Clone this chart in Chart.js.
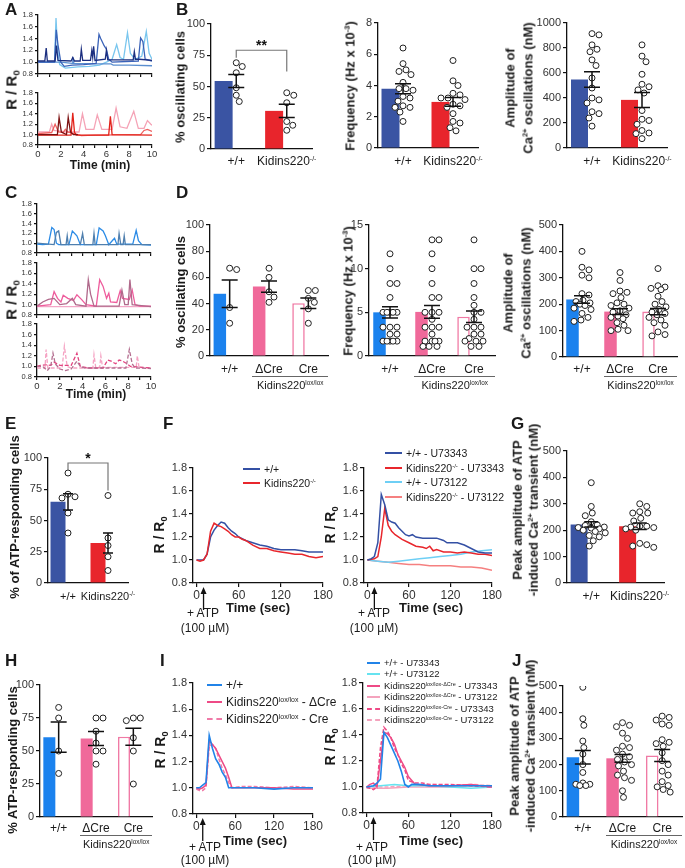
<!DOCTYPE html>
<html><head><meta charset="utf-8">
<script src="https://cdn.jsdelivr.net/npm/chart.js@4.4.1/dist/chart.umd.min.js"></script>
<style>
html,body{margin:0;padding:0;background:#fff;}
#wrap{position:relative;width:685px;height:868px;overflow:hidden;background:#fff;font-family:"Liberation Sans",Arial,Helvetica,sans-serif;}
#wrap canvas{position:absolute;}
.t{position:absolute;white-space:nowrap;line-height:1;color:#1a1a1a;}
.t sup{font-size:58%;vertical-align:0.6em;line-height:0;}
.t sub{font-size:65%;vertical-align:-0.3em;line-height:0;}
.ln{position:absolute;height:0;}
</style></head><body><div id="wrap"></div>
<script>
// ================= DATA =================
// Panel A traces: [time (min), R/R0]
const A_wt_navy  = [[0,1.02],[0.6,1.02],[0.72,1.24],[0.82,1.02],[1.5,1.02],[1.62,1.28],[1.75,1.03],[2.9,1.02],[3.05,1.08],[3.2,1.02],[3.7,1.02],[3.8,1.22],[3.92,1.03],[4.6,1.03],[4.72,1.2],[4.8,1.08],[4.88,1.27],[5.0,1.03],[5.9,1.05],[6.0,1.2],[6.12,1.04],[8.35,1.04],[8.45,1.18],[8.55,1.05],[8.9,1.05],[10,1.03]];
const A_wt_royal = [[0,1.0],[1.45,1.0],[1.6,1.55],[1.75,1.3],[2.0,1.0],[2.3,0.93],[3,0.95],[4,0.96],[5.1,0.98],[5.35,1.47],[5.5,1.4],[5.8,1.28],[6.0,1.22],[6.2,1.05],[6.5,1.0],[8.8,1.02],[9.0,1.41],[9.2,1.35],[9.4,1.05],[10,1.02]];
const A_wt_sky   = [[0,1.0],[1.45,1.0],[1.58,1.75],[1.72,1.2],[1.9,0.96],[2.4,0.9],[3.5,0.92],[4.5,0.93],[5.4,0.95],[6.0,1.0],[6.5,1.05],[6.9,1.3],[7.2,1.08],[7.5,1.05],[7.85,1.5],[8.1,1.15],[8.5,1.05],[9.1,1.1],[9.5,1.52],[9.75,1.15],[10,1.05]];
const A_wt_steel = [[0,1.0],[2.0,1.0],[3.0,0.98],[3.05,1.09],[3.15,0.98],[5,0.97],[6.4,0.97],[6.6,0.95],[8,0.95],[10,0.94]];
const A_ko_dark  = [[0,1.0],[1.7,1.0],[1.85,1.33],[2.05,1.05],[2.5,1.0],[2.65,1.33],[2.85,1.05],[3.1,1.0],[3.5,1.0]];
const A_ko_red   = [[0,0.99],[2.9,0.99],[3.05,1.42],[3.2,1.05],[3.35,0.99],[6.2,0.99],[6.35,1.35],[6.5,1.0],[10,0.99]];
const A_ko_pink  = [[0,1.05],[1.0,1.05],[1.2,1.2],[1.4,1.08],[2.5,1.05],[3.6,1.05],[3.9,1.4],[4.2,1.1],[4.9,1.1],[5.2,1.38],[5.6,1.1],[6.5,1.1],[6.85,1.51],[7.2,1.15],[7.8,1.12],[8.4,1.45],[8.8,1.12],[9.3,1.12],[9.6,1.27],[9.9,1.2],[10,1.18]];
const A_ko_salmon= [[0,1.02],[1.2,1.04],[1.5,1.2],[1.8,1.05],[2.2,1.04],[2.4,1.1],[2.6,1.05],[3.5,1.0],[3.8,0.98],[5,0.99],[9,1.0],[9.3,1.08],[9.6,1.1],[10,1.06]];
// Panel C traces
const C_wt_azure = [[0,0.98],[0.5,0.97],[1.0,0.98],[1.3,1.32],[1.5,1.28],[1.7,1.0],[1.9,0.97],[2.8,0.97],[3.1,1.25],[3.5,1.15],[3.8,0.97],[5.2,0.97],[5.45,1.31],[5.8,1.25],[6.0,1.15],[6.3,0.97],[6.6,1.05],[6.8,1.1],[7.0,0.98],[8.4,0.98],[8.7,1.26],[8.9,1.05],[9.2,0.97],[10,0.96]];
const C_wt_steel = [[0,1.0],[1.5,0.97],[1.7,1.22],[1.9,1.25],[2.1,0.97],[2.55,0.97],[2.65,1.15],[2.75,0.97],[3.8,0.97],[4.0,1.2],[4.15,0.97],[4.9,0.97],[5.0,1.2],[5.1,0.97],[7.1,0.97],[7.2,1.2],[7.35,0.97],[7.55,0.97],[7.65,1.15],[7.75,0.97],[10,0.97]];
const C_dCre_pink  = [[0,0.97],[1.2,1.0],[1.5,1.25],[1.8,1.12],[2.1,1.05],[2.3,1.18],[2.7,1.12],[3.2,1.08],[3.5,1.19],[3.9,1.1],[4.3,1.0],[5.2,0.97],[5.5,1.48],[5.8,1.35],[6.1,1.12],[6.3,1.22],[6.45,1.05],[7.0,1.04],[7.3,1.27],[7.5,1.12],[8.1,1.1],[8.35,1.28],[8.6,1.0],[9.0,0.97],[10,0.97]];
const C_dCre_mauve = [[0,0.97],[0.5,1.05],[1.0,1.1],[1.5,1.12],[2.0,1.0],[2.6,1.02],[3.1,1.12],[3.4,1.0],[4.3,0.97],[4.5,1.48],[4.7,1.2],[5.0,0.97],[7.2,0.97],[7.45,1.28],[7.7,1.0],[8.0,1.0],[8.15,1.48],[8.35,1.0],[10,0.96]];
const C_dCre_light = [[0,0.96],[4,0.96],[10,0.96]];
const C_cre_light = [[0,0.97],[0.7,0.97],[0.8,1.32],[0.95,0.97],[2.2,0.97],[2.4,1.38],[2.65,1.0],[3.0,0.97],[4.9,0.97],[5.0,1.22],[5.15,0.98],[5.5,0.98],[5.6,1.2],[5.75,0.98],[8.7,0.98],[8.8,1.2],[8.95,0.98],[10,0.97]];
const C_cre_mauve = [[0,1.0],[0.5,1.0],[0.9,0.92],[1.2,1.0],[1.4,1.25],[1.6,1.05],[2.0,0.95],[2.5,0.92],[3.0,0.95],[3.5,1.1],[3.8,1.0],[4.2,0.97],[7.8,0.97],[8.1,1.32],[8.35,1.05],[8.6,0.97],[10,0.96]];
const C_cre_rose  = [[0,1.0],[0.3,1.02],[0.8,1.03],[1.2,1.02],[1.5,1.08],[2.0,1.02],[3.0,1.02],[3.5,1.25],[3.8,1.0],[4.5,0.97],[5.8,0.97],[6.2,1.12],[6.5,1.1],[6.9,1.05],[7.2,1.12],[7.5,1.1],[7.9,1.05],[8.2,1.0],[10,0.97]];
const traceTimeTicks = [0,1,2,3,4,5,6,7,8,9,10];

// Panel B
const B_cats = ['+/+','Kidins220-/-'];
const B1_mean = [54.5,30.5], B1_sem = [5.2,5.3];
const B1_wt = [69,66,61,49,43,38], B1_ko = [45,43,37,22,19,15];
const B2_mean = [3.8,2.95], B2_sem = [0.32,0.28];
const B2_wt = [6.4,5.4,5.0,4.9,4.7,4.2,3.8,3.8,3.7,3.3,3.2,3.0,2.7,2.6,2.6,2.3,1.7];
const B2_ko = [5.6,4.3,4.0,3.5,3.4,3.2,3.2,3.1,2.8,2.7,2.6,2.2,1.7,1.6,1.3,1.1];
const B3_mean = [548,385], B3_sem = [62,60];
const B3_wt = [915,905,825,790,770,705,660,560,480,400,385,360,290,275,240,175];
const B3_ko = [825,735,690,590,510,490,465,440,300,230,220,190,140,120,115,75];
// Panel D
const D_cats = ['+/+','ΔCre','Cre'];
const D1_mean = [47.5,53,40.3], D1_sem = [10.5,4.3,4];
const D1_wt = [67,66,37,25], D1_dCre = [67,60,49,45,41], D1_cre = [50,50,44,41,36,25];
const D2_mean = [5.0,5.05,4.5], D2_sem = [0.65,0.72,0.65];
const D2_wt = [11.7,10,8.3,8.3,6.7,5,5,5,5,5,3.3,3.3,3.3,2.5,2.5,1.7,1.7,1.7,1.7,1.7];
const D2_dCre = [13.3,13.3,11.7,10,8.3,6.7,6.7,5,5,5,4.2,3.3,3.3,3.3,2.5,1.7,1.7,1.7,1.7,1.1,1.1,1.1];
const D2_cre = [13.3,10,10,8.3,6.7,5.8,5,5,4.2,3.3,3.3,3.3,2.5,2.5,2,1.7,1.7,1.7,1.1,1.1];
const D3_mean = [218,172,172], D3_sem = [14,11,12];
const D3_wt = [400,340,330,310,300,240,235,215,210,205,200,195,185,180,165,150,140,135];
const D3_dCre = [320,290,250,245,240,225,205,200,195,185,175,170,160,155,150,145,130,120,105,100,100];
const D3_cre = [335,270,265,260,255,230,210,200,190,180,170,165,160,150,140,130,120,95,85,80];
// Panel E
const E_mean = [65,32], E_sem = [6.5,8];
const E_wt = [88,71,69,68,56,40], E_ko = [70,36,30,21,10];
// Panel F: [time (s), R/R0]
const F_wt = [[0,1.0],[5,1.0],[10,1.0],[15,1.05],[20,1.2],[25,1.26],[30,1.3],[35,1.33],[40,1.32],[45,1.28],[50,1.25],[55,1.23],[60,1.2],[70,1.17],[80,1.15],[90,1.13],[100,1.12],[110,1.1],[120,1.09],[130,1.09],[140,1.09],[150,1.08],[160,1.07],[170,1.07],[180,1.07]];
const F_ko = [[0,1.0],[5,0.99],[10,1.0],[15,1.05],[20,1.25],[25,1.32],[30,1.3],[35,1.29],[40,1.27],[45,1.25],[50,1.22],[55,1.2],[60,1.2],[65,1.18],[70,1.17],[80,1.13],[90,1.1],[100,1.1],[110,1.08],[120,1.07],[130,1.06],[140,1.05],[150,1.05],[160,1.03],[170,1.02],[180,1.03]];
const F_wt_U73343 = [[0,1.0],[5,1.01],[10,1.03],[15,1.15],[20,1.57],[25,1.48],[30,1.35],[35,1.33],[40,1.32],[45,1.28],[50,1.25],[55,1.22],[60,1.21],[65,1.22],[70,1.2],[80,1.19],[90,1.19],[100,1.19],[110,1.17],[115,1.15],[120,1.15],[130,1.15],[140,1.13],[150,1.1],[160,1.07],[170,1.06],[180,1.06]];
const F_ko_U73343 = [[0,1.0],[10,1.01],[15,1.03],[20,1.2],[25,1.45],[30,1.3],[35,1.25],[40,1.22],[50,1.18],[60,1.15],[70,1.12],[80,1.11],[85,1.1],[90,1.12],[95,1.08],[100,1.09],[110,1.07],[120,1.07],[130,1.06],[140,1.07],[150,1.06],[160,1.05],[170,1.05],[180,1.04]];
const F_wt_U73122 = [[0,1.0],[15,0.99],[30,0.98],[45,0.99],[60,1.0],[75,1.01],[90,1.02],[105,1.03],[120,1.04],[135,1.05],[150,1.07],[165,1.08],[180,1.09]];
const F_ko_U73122 = [[0,1.0],[15,0.99],[30,0.98],[45,0.97],[60,0.96],[75,0.96],[90,0.95],[105,0.95],[120,0.95],[135,0.94],[150,0.94],[165,0.93],[180,0.91]];
const secTicks = [0,60,120,180];
// Panel G
const G_mean = [222,215], G_sem = [10,12];
const G_wt = [380,290,265,255,232,220,218,212,210,208,205,200,195,190,180,175,160,140];
const G_ko = [300,290,270,265,265,245,235,215,215,212,210,205,200,150,145,140,135];
// Panel H
const H_mean = [60.5,59.5,60.8], H_sem = [11.5,5.3,6.5];
const H_wt = [83,75,50,33], H_dCre = [75,75,65,56,50,50,40], H_cre = [75,75,73,60,50,25];
// Panel I
const I_wt   = [[0,1.0],[5,1.0],[10,1.02],[15,1.04],[20,1.4],[25,1.3],[30,1.22],[35,1.18],[40,1.12],[45,1.08],[50,1.0],[60,1.0],[90,1.0],[120,0.99],[150,1.0],[180,1.0]];
const I_dCre = [[0,1.0],[5,0.99],[10,1.0],[15,1.02],[20,1.36],[25,1.33],[30,1.3],[35,1.25],[40,1.2],[45,1.15],[50,1.08],[55,1.0],[60,1.0],[90,1.0],[120,1.0],[150,0.99],[180,0.99]];
const I_cre  = [[0,0.99],[5,0.98],[10,0.98],[15,1.0],[20,1.32],[25,1.33],[30,1.3],[35,1.22],[40,1.15],[45,1.1],[50,1.04],[55,1.0],[70,1.01],[90,1.01],[120,1.0],[150,1.01],[180,1.0]];
const I_wt_U73343   = [[0,1.0],[10,1.01],[15,1.03],[20,1.06],[25,1.42],[30,1.38],[35,1.32],[40,1.26],[45,1.2],[50,1.12],[55,1.02],[60,1.0],[65,1.02],[75,1.02],[90,1.01],[120,1.01],[150,1.01],[180,1.01]];
const I_wt_U73122   = [[0,1.0],[20,1.01],[40,1.02],[60,1.01],[90,1.01],[120,1.0],[150,0.99],[180,1.0]];
const I_dCre_U73343 = [[0,1.0],[5,1.02],[10,1.03],[15,1.0],[20,1.2],[25,1.42],[30,1.41],[35,1.38],[40,1.33],[45,1.25],[50,1.2],[55,1.15],[60,1.08],[70,1.02],[90,1.01],[120,1.01],[150,1.02],[180,1.0]];
const I_dCre_U73122 = [[0,0.99],[30,0.99],[60,1.0],[90,1.0],[120,1.0],[150,1.01],[180,1.0]];
const I_cre_U73343  = [[0,1.0],[5,0.99],[10,0.98],[15,1.0],[20,1.3],[25,1.46],[30,1.43],[35,1.38],[40,1.3],[45,1.25],[50,1.18],[55,1.13],[60,1.05],[70,1.03],[80,1.03],[90,1.02],[120,1.02],[150,1.01],[180,1.0]];
const I_cre_U73122  = [[0,1.0],[30,1.0],[60,1.01],[90,1.02],[120,1.01],[150,1.02],[180,1.01]];
// Panel J
const J_mean = [228,224,235], J_sem = [26,15,23];
const J_wt = [495,375,350,290,265,240,200,170,130,125,125,120,120];
const J_dCre = [360,350,345,320,300,270,265,255,240,230,220,210,200,195,175,160,150,140,100,75];
const J_cre = [385,380,370,355,350,295,285,280,270,245,215,200,175,160,135,120,115,105,95];

// ================= HELPERS =================
Chart.defaults.font.family = '"Liberation Sans", Arial, sans-serif';
Chart.defaults.color = '#333';
const wrap = document.getElementById('wrap');
const PAD = {l:46, r:16, t:14, b:46};
const INK = '#111';

function txt(html, x, y, o = {}) {
  const d = document.createElement('div');
  d.className = 't'; d.innerHTML = html;
  d.style.fontSize = (o.size || 12) + 'px';
  if (o.bold) d.style.fontWeight = 'bold';
  if (o.lh) d.style.lineHeight = o.lh;
  d.style.textAlign = o.align || 'center';
  d.style.left = x + 'px'; d.style.top = y + 'px';
  let tr = o.anchor === 'l' ? 'translate(0,-50%)' : o.anchor === 'tl' ? '' : 'translate(-50%,-50%)';
  if (o.rot) tr += ' rotate(-90deg)';
  d.style.transform = tr;
  wrap.appendChild(d); return d;
}
function hline(x0, x1, y, style) {
  const l = document.createElement('div'); l.className = 'ln';
  l.style.left = x0 + 'px'; l.style.top = y + 'px'; l.style.width = (x1 - x0) + 'px';
  l.style.borderTop = style || '1.3px solid #666';
  wrap.appendChild(l);
}
function legend(items, x, y0, dy, lw, fs) {
  items.forEach((it, i) => {
    const y = y0 + i * dy;
    hline(x, x + lw, y - 1, (it.w || 2) + 'px ' + (it.dash ? 'dashed' : 'solid') + ' ' + it.color);
    txt(it.label, x + lw + 4, y, {size: fs, anchor: 'l', align: 'left'});
  });
}
function catHtml(s) { return s.replace(/^Kidins220(.+)$/, 'Kidins220<sup>$1</sup>'); }
function place(rect) {
  const c = document.createElement('canvas');
  const w = rect.x1 - rect.x0 + PAD.l + PAD.r, h = rect.y1 - rect.y0 + PAD.t + PAD.b;
  c.width = w; c.height = h; c.style.width = w + 'px'; c.style.height = h + 'px';
  c.style.left = (rect.x0 - PAD.l) + 'px'; c.style.top = (rect.y0 - PAD.t) + 'px';
  wrap.appendChild(c); return c;
}
function yScale(min, max, step, fs, dec, tl) {
  return {
    type: 'linear', min, max,
    afterBuildTicks: s => { const t = []; for (let v = min; v <= max + 1e-9; v += step) t.push({value: +v.toFixed(6)}); s.ticks = t; },
    ticks: {font: {size: fs}, color: '#333', padding: 2, autoSkip: false, callback: v => dec ? Number(v).toFixed(dec) : v},
    grid: {drawOnChartArea: false, drawTicks: true, tickLength: tl || 4, color: INK, tickColor: INK, lineWidth: 1.2},
    border: {display: true, color: INK, width: 1.3},
    afterFit: s => { s.width = PAD.l - 2; }
  };
}
// compact beeswarm layout (pixels), limited to the bar width
function swarm(vals, ppu, d, catPx, maxX) {
  const idx = vals.map((v, i) => i).sort((a, b) => vals[b] - vals[a]);
  const placed = [], off = new Array(vals.length).fill(0);
  for (const i of idx) {
    const y = vals[i] * ppu;
    let best = 0, bestScore = -1;
    for (let k = 0; k <= 2 * Math.floor(maxX); k++) {
      const x = k === 0 ? 0 : (k % 2 ? Math.ceil(k / 2) : -k / 2);
      const md = placed.reduce((m, p) => Math.min(m, Math.hypot(p.x - x, p.y - y)), Infinity);
      if (md >= d) { best = x; break; }
      if (md > bestScore) { bestScore = md; best = x; }
    }
    placed.push({x: best, y}); off[i] = best / catPx;
  }
  return off;
}
const errPlugin = o => ({
  id: 'err',
  afterDatasetsDraw(chart) {
    const ctx = chart.ctx, xs = chart.scales.x, ys = chart.scales.y;
    ctx.save(); ctx.strokeStyle = INK; ctx.lineWidth = 1.5;
    o.mean.forEach((m, i) => {
      const x = xs.getPixelForValue(i), y0 = ys.getPixelForValue(m - o.sem[i]), y1 = ys.getPixelForValue(m + o.sem[i]);
      ctx.beginPath(); ctx.moveTo(x, y0); ctx.lineTo(x, y1);
      ctx.moveTo(x - o.cap, y0); ctx.lineTo(x + o.cap, y0);
      ctx.moveTo(x - o.cap, y1); ctx.lineTo(x + o.cap, y1); ctx.stroke();
    });
    if (o.sig) {
      const s = o.sig, xa = xs.getPixelForValue(0), xb = xs.getPixelForValue(1);
      const yt = ys.getPixelForValue(s.top), ya = ys.getPixelForValue(s.left), yb = ys.getPixelForValue(s.right);
      ctx.strokeStyle = '#777'; ctx.lineWidth = 1.2;
      ctx.beginPath(); ctx.moveTo(xa, ya); ctx.lineTo(xa, yt); ctx.lineTo(xb, yt); ctx.lineTo(xb, yb); ctx.stroke();
      ctx.fillStyle = INK; ctx.font = 'bold 14px "Liberation Sans", Arial'; ctx.textAlign = 'center'; ctx.textBaseline = 'bottom';
      ctx.fillText(s.text, (xa + xb) / 2, yt + 3);
    }
    ctx.restore();
  }
});
const arrowPlugin = o => ({
  id: 'arrow',
  afterDraw(chart) {
    const ctx = chart.ctx, x = chart.scales.x.getPixelForValue(o.arrowT);
    const y0 = chart.chartArea.bottom + 4, y1 = chart.chartArea.bottom + 27;
    ctx.save(); ctx.strokeStyle = INK; ctx.fillStyle = INK; ctx.lineWidth = 1.3;
    ctx.beginPath(); ctx.moveTo(x, y1); ctx.lineTo(x, y0 + 4); ctx.stroke();
    ctx.beginPath(); ctx.moveTo(x, y0); ctx.lineTo(x - 3, y0 + 7); ctx.lineTo(x + 3, y0 + 7); ctx.closePath(); ctx.fill();
    ctx.restore();
  }
});
const commonOpts = () => ({responsive: false, animation: false, events: [], devicePixelRatio: 1,
  layout: {padding: {left: 2, right: PAD.r, top: PAD.t, bottom: 2}},
  plugins: {legend: {display: false}, tooltip: {enabled: false}}});

function barPanel(o) {
  const c = place(o.rect);
  const n = o.mean.length;
  const catPx = (o.rect.x1 - o.rect.x0) / n;
  const ppu = (o.rect.y1 - o.rect.y0) / (o.ymax - o.ymin);
  const dots = [];
  o.pts.forEach((arr, g) => { const off = swarm(arr, ppu, 6.6, catPx, o.barW / 2 - 3); arr.forEach((v, j) => dots.push({x: g + off[j], y: v})); });
  const opts = commonOpts();
  opts.scales = {
    x: {type: 'category', offset: true, grid: {display: false}, border: {display: true, color: INK, width: 1.3}, ticks: {display: false}, afterFit: s => { s.height = PAD.b - 2; }},
    xd: {type: 'linear', display: false, min: -0.5, max: n - 0.5},
    y: yScale(o.ymin, o.ymax, o.step, 11, 0, 4)
  };
  const ch = new Chart(c, {
    data: {labels: o.cats, datasets: [
      {type: 'bar', data: o.mean, backgroundColor: o.fill, borderColor: o.stroke || o.fill, borderWidth: o.bw || 0, barPercentage: o.barW / catPx, categoryPercentage: 1, order: 2},
      {type: 'scatter', xAxisID: 'xd', data: dots, pointRadius: 3, pointBackgroundColor: '#fff', pointBorderColor: '#222', pointBorderWidth: 1, order: 1}
    ]},
    options: opts,
    plugins: [errPlugin({mean: o.mean, sem: o.sem, cap: o.cap, sig: o.sig})]
  });
  const left = o.rect.x0 - PAD.l;
  const px = i => left + ch.scales.x.getPixelForValue(i);
  o.cats.forEach((s, i) => txt(catHtml(s), px(i), o.labY, {size: o.labFs || 12}));
  if (o.group) {
    const xa = px(1) - catPx * 0.42, xb = o.rect.x1;
    hline(xa, xb, o.labY + 6.5);
    txt(o.group, (xa + xb) / 2, o.labY + 15.5, {size: 11});
  }
  return ch;
}
function linePanel(o) {
  const c = place(o.rect);
  const opts = commonOpts();
  opts.scales = {
    x: {type: 'linear', min: o.xmin, max: o.xmax,
      afterBuildTicks: s => { s.ticks = o.xticks.map(v => ({value: v})); },
      ticks: {display: o.xlab !== false, font: {size: o.xfs}, color: '#333', padding: 1, maxRotation: 0, autoSkip: false, callback: o.xfmt || (v => v)},
      grid: {drawOnChartArea: false, drawTicks: true, tickLength: o.tl || 4, color: INK, tickColor: INK, lineWidth: 1.2},
      border: {display: true, color: INK, width: 1.3}, afterFit: s => { s.height = PAD.b - 2; }},
    y: yScale(0.8, 1.8, 0.2, o.yfs, 1, o.tl)
  };
  const ds = o.series.map(s => ({data: s.data.map(p => ({x: p[0], y: p[1]})), borderColor: s.color, borderWidth: s.w || 1.3, borderDash: s.dash || [], pointRadius: 0, tension: 0, fill: false}));
  return new Chart(c, {type: 'line', data: {datasets: ds}, options: opts, plugins: o.arrowT != null ? [arrowPlugin(o)] : []});
}

// ================= PANELS =================
// ---- A ----
const evenLbl = v => (v % 2 === 0 ? v : '');
linePanel({rect: {x0: 38, x1: 152, y0: 15, y1: 74}, xmin: 0, xmax: 10, xticks: traceTimeTicks, xlab: false, yfs: 7.5, tl: 3,
  series: [{data: A_wt_navy, color: '#1c2f80'}, {data: A_wt_royal, color: '#3a62b8'}, {data: A_wt_steel, color: '#5b8fd0'}, {data: A_wt_sky, color: '#79c6ee'}]});
linePanel({rect: {x0: 38, x1: 152, y0: 93, y1: 145}, xmin: 0, xmax: 10, xticks: traceTimeTicks, xfs: 9.5, xfmt: evenLbl, yfs: 7.5, tl: 3,
  series: [{data: A_ko_dark, color: '#7d1212'}, {data: A_ko_red, color: '#e2231a'}, {data: A_ko_salmon, color: '#ef6060'}, {data: A_ko_pink, color: '#f5a3b6'}]});
txt('R / R<sub>0</sub>', 11, 90, {size: 15, bold: true, rot: true});
txt('Time (min)', 100, 165, {size: 12, bold: true});

// ---- B ----
const navy = '#3a54a3', red = '#e8252c';
barPanel({rect: {x0: 211, x1: 312, y0: 24, y1: 149}, ymin: 0, ymax: 100, step: 25, cats: B_cats, mean: B1_mean, sem: B1_sem, pts: [B1_wt, B1_ko],
  fill: [navy, red], barW: 36, cap: 8, labY: 161, sig: {top: 79, left: 73, right: 62, text: '**'}});
barPanel({rect: {x0: 378, x1: 478, y0: 23, y1: 148}, ymin: 0, ymax: 8, step: 2, cats: B_cats, mean: B2_mean, sem: B2_sem, pts: [B2_wt, B2_ko],
  fill: [navy, red], barW: 36, cap: 8, labY: 161});
barPanel({rect: {x0: 567, x1: 667, y0: 23, y1: 148}, ymin: 0, ymax: 1000, step: 200, cats: B_cats, mean: B3_mean, sem: B3_sem, pts: [B3_wt, B3_ko],
  fill: [navy, red], barW: 34, cap: 8, labY: 161});
txt('% oscillating cells', 180, 87, {size: 13, bold: true, rot: true});
txt('Frequency (Hz x 10<sup>-3</sup>)', 350, 86, {size: 13, bold: true, rot: true});
txt('Amplitude of<br>Ca<sup>2+</sup> oscillations (nM)', 519, 88, {size: 13, bold: true, rot: true, lh: 1.35});

// ---- C ----
linePanel({rect: {x0: 37, x1: 151, y0: 204, y1: 253}, xmin: 0, xmax: 10, xticks: traceTimeTicks, xlab: false, yfs: 7.5, tl: 3,
  series: [{data: C_wt_steel, color: '#4f7fae'}, {data: C_wt_azure, color: '#2b8be6'}]});
linePanel({rect: {x0: 37, x1: 151, y0: 263, y1: 315}, xmin: 0, xmax: 10, xticks: traceTimeTicks, xlab: false, yfs: 7.5, tl: 3,
  series: [{data: C_dCre_mauve, color: '#b0698b'}, {data: C_dCre_pink, color: '#ee5c9c'}, {data: C_dCre_light, color: '#f3a6c6'}]});
linePanel({rect: {x0: 37, x1: 151, y0: 324, y1: 377}, xmin: 0, xmax: 10, xticks: traceTimeTicks, xfs: 9.5, xfmt: evenLbl, yfs: 7.5, tl: 3,
  series: [{data: C_cre_mauve, color: '#b56f91', dash: [4, 2]}, {data: C_cre_rose, color: '#e2437f', dash: [4, 2]}, {data: C_cre_light, color: '#f5a3c3', dash: [4, 2]}]});
txt('R / R<sub>0</sub>', 11, 300, {size: 15, bold: true, rot: true});
txt('Time (min)', 96, 394, {size: 12, bold: true});

// ---- D ----
const azure = '#1b82ee', pink = '#f0699a', pinkLine = '#f07aa5';
const grp = 'Kidins220<sup>lox/lox</sup>';
barPanel({rect: {x0: 210, x1: 328, y0: 225, y1: 356}, ymin: 0, ymax: 100, step: 20, cats: D_cats, mean: D1_mean, sem: D1_sem, pts: [D1_wt, D1_dCre, D1_cre],
  fill: [azure, pink, '#fff'], stroke: [azure, pink, pinkLine], bw: [0, 0, 1.6], barW: 25, cap: 8, labY: 369, group: grp});
barPanel({rect: {x0: 369, x1: 495, y0: 225, y1: 356}, ymin: 0, ymax: 15, step: 5, cats: D_cats, mean: D2_mean, sem: D2_sem, pts: [D2_wt, D2_dCre, D2_cre],
  fill: [azure, pink, '#fff'], stroke: [azure, pink, pinkLine], bw: [0, 0, 1.6], barW: 25, cap: 8, labY: 369, group: grp});
barPanel({rect: {x0: 563, x1: 677, y0: 225, y1: 357}, ymin: 0, ymax: 500, step: 100, cats: D_cats, mean: D3_mean, sem: D3_sem, pts: [D3_wt, D3_dCre, D3_cre],
  fill: [azure, pink, '#fff'], stroke: [azure, pink, pinkLine], bw: [0, 0, 1.6], barW: 25, cap: 8, labY: 369, group: grp});
txt('% oscillating cells', 180, 292, {size: 13, bold: true, rot: true});
txt('Frequency (Hz x 10<sup>-3</sup>)', 348, 291, {size: 13, bold: true, rot: true});
txt('Amplitude of<br>Ca<sup>2+</sup> oscillations (nM)', 517, 293, {size: 13, bold: true, rot: true, lh: 1.35});

// ---- E ----
barPanel({rect: {x0: 48, x1: 128, y0: 458, y1: 583}, ymin: 0, ymax: 100, step: 25, cats: B_cats, mean: E_mean, sem: E_sem, pts: [E_wt, E_ko],
  fill: [navy, red], barW: 30, cap: 5, labY: 596, labFs: 11, sig: {top: 96, left: 90, right: 74, text: '*'}});
txt('% of ATP-responding cells', 14, 517, {size: 13, bold: true, rot: true});

// ---- F ----
linePanel({rect: {x0: 193, x1: 323, y0: 468, y1: 583}, xmin: -5, xmax: 180, xticks: secTicks, xfs: 12, yfs: 11, arrowT: 10,
  series: [{data: F_ko, color: '#e8262c', w: 1.5}, {data: F_wt, color: '#3450a4', w: 1.5}]});
linePanel({rect: {x0: 364, x1: 492, y0: 468, y1: 583}, xmin: -5, xmax: 180, xticks: secTicks, xfs: 12, yfs: 11, arrowT: 10,
  series: [{data: F_wt_U73343, color: '#3450a4', w: 1.5}, {data: F_ko_U73343, color: '#e8262c', w: 1.5}, {data: F_wt_U73122, color: '#6ecff5', w: 1.5}, {data: F_ko_U73122, color: '#f58080', w: 1.5}]});
txt('R / R<sub>0</sub>', 159, 535, {size: 14, bold: true, rot: true});
txt('R / R<sub>0</sub>', 330, 525, {size: 14, bold: true, rot: true});
txt('Time (sec)', 258, 607, {size: 13, bold: true});
txt('Time (sec)', 431, 607, {size: 13, bold: true});
txt('+ ATP', 203, 613, {size: 12}); txt('(100 µM)', 205, 628, {size: 12});
txt('+ ATP', 374, 613, {size: 12}); txt('(100 µM)', 374, 628, {size: 12});
legend([{label: '+/+', color: '#3450a4'}, {label: 'Kidins220<sup>-/-</sup>', color: '#e8262c'}], 243, 469, 14, 17, 10.5);
legend([{label: '+/+ - U73343', color: '#3450a4'}, {label: 'Kidins220<sup>-/-</sup> - U73343', color: '#e8262c'},
        {label: '+/+ - U73122', color: '#6ecff5'}, {label: 'Kidins220<sup>-/-</sup> - U73122', color: '#f58080'}], 385, 453, 14.7, 17, 10.5);

// ---- G ----
barPanel({rect: {x0: 567, x1: 664, y0: 451, y1: 583}, ymin: 0, ymax: 500, step: 100, cats: B_cats, mean: G_mean, sem: G_sem, pts: [G_wt, G_ko],
  fill: [navy, red], barW: 34, cap: 7, labY: 596});
txt('Peak amplitude of ATP<br>-induced Ca<sup>2+</sup> transient (nM)', 526, 510, {size: 13, bold: true, rot: true, lh: 1.25});

// ---- H ----
barPanel({rect: {x0: 40, x1: 152, y0: 685, y1: 817}, ymin: 0, ymax: 100, step: 25, cats: D_cats, mean: H_mean, sem: H_sem, pts: [H_wt, H_dCre, H_cre],
  fill: [azure, pink, '#fff'], stroke: [azure, pink, pinkLine], bw: [0, 0, 1.6], barW: 24, cap: 8, labY: 828, group: grp});
txt('% ATP-responding cells', 12, 760, {size: 13, bold: true, rot: true});

// ---- I ----
linePanel({rect: {x0: 193, x1: 313, y0: 683, y1: 814}, xmin: -5, xmax: 180, xticks: secTicks, xfs: 12, yfs: 11, arrowT: 10,
  series: [{data: I_wt, color: '#2183e8', w: 1.6}, {data: I_dCre, color: '#ee4a86', w: 1.5}, {data: I_cre, color: '#f07aa8', w: 1.5, dash: [4, 2]}]});
linePanel({rect: {x0: 363, x1: 492, y0: 683, y1: 813}, xmin: -5, xmax: 180, xticks: secTicks, xfs: 12, yfs: 11, arrowT: 10,
  series: [{data: I_wt_U73343, color: '#2183e8', w: 1.6}, {data: I_dCre_U73343, color: '#ee4a86', w: 1.5}, {data: I_cre_U73343, color: '#ee4a86', w: 1.5, dash: [4, 2]},
           {data: I_wt_U73122, color: '#66e3f0', w: 1.5}, {data: I_dCre_U73122, color: '#f4a3bd', w: 1.5}, {data: I_cre_U73122, color: '#f4a3bd', w: 1.5, dash: [4, 2]}]});
txt('R / R<sub>0</sub>', 160, 750, {size: 14, bold: true, rot: true});
txt('R / R<sub>0</sub>', 330, 747, {size: 14, bold: true, rot: true});
txt('Time (sec)', 255, 840, {size: 13, bold: true});
txt('Time (sec)', 431, 840, {size: 13, bold: true});
txt('+ ATP', 205, 847, {size: 12}); txt('(100 µM)', 205, 860, {size: 12});
txt('+ ATP', 372, 847, {size: 12}); txt('(100 µM)', 372, 860, {size: 12});
legend([{label: '+/+', color: '#2183e8'}, {label: 'Kidins220<sup>lox/lox</sup> - ΔCre', color: '#ee4a86'}, {label: 'Kidins220<sup>lox/lox</sup> - Cre', color: '#f07aa8', dash: true}], 207, 685, 17, 15, 12);
legend([{label: '+/+ - U73343', color: '#2183e8'}, {label: '+/+ - U73122', color: '#66e3f0'},
        {label: 'Kidins220<sup>lox/lox-ΔCre</sup> - U73343', color: '#ee4a86'}, {label: 'Kidins220<sup>lox/lox-ΔCre</sup> - U73122', color: '#f4a3bd'},
        {label: 'Kidins220<sup>lox/lox-Cre</sup> - U73343', color: '#ee4a86', dash: true}, {label: 'Kidins220<sup>lox/lox-Cre</sup> - U73122', color: '#f4a3bd', dash: true}], 367, 663, 11.4, 13, 9.5);

// ---- J ----
barPanel({rect: {x0: 563, x1: 682, y0: 686, y1: 817}, ymin: 0, ymax: 500, step: 100, cats: D_cats, mean: J_mean, sem: J_sem, pts: [J_wt, J_dCre, J_cre],
  fill: [azure, pink, '#fff'], stroke: [azure, pink, pinkLine], bw: [0, 0, 1.6], barW: 25, cap: 8, labY: 828, group: grp});
txt('Peak amplitude of ATP<br>-induced Ca<sup>2+</sup> transient (nM)', 523, 746, {size: 13, bold: true, rot: true, lh: 1.25});

// ---- panel letters ----
[['A', 5, 1], ['B', 176, 1], ['C', 5, 184], ['D', 176, 184], ['E', 5, 415], ['F', 163, 415], ['G', 511, 415], ['H', 5, 652], ['I', 160, 652], ['J', 512, 652]]
  .forEach(([s, x, y]) => txt(s, x, y, {size: 17, bold: true, anchor: 'tl', align: 'left'}));
</script></body></html>
